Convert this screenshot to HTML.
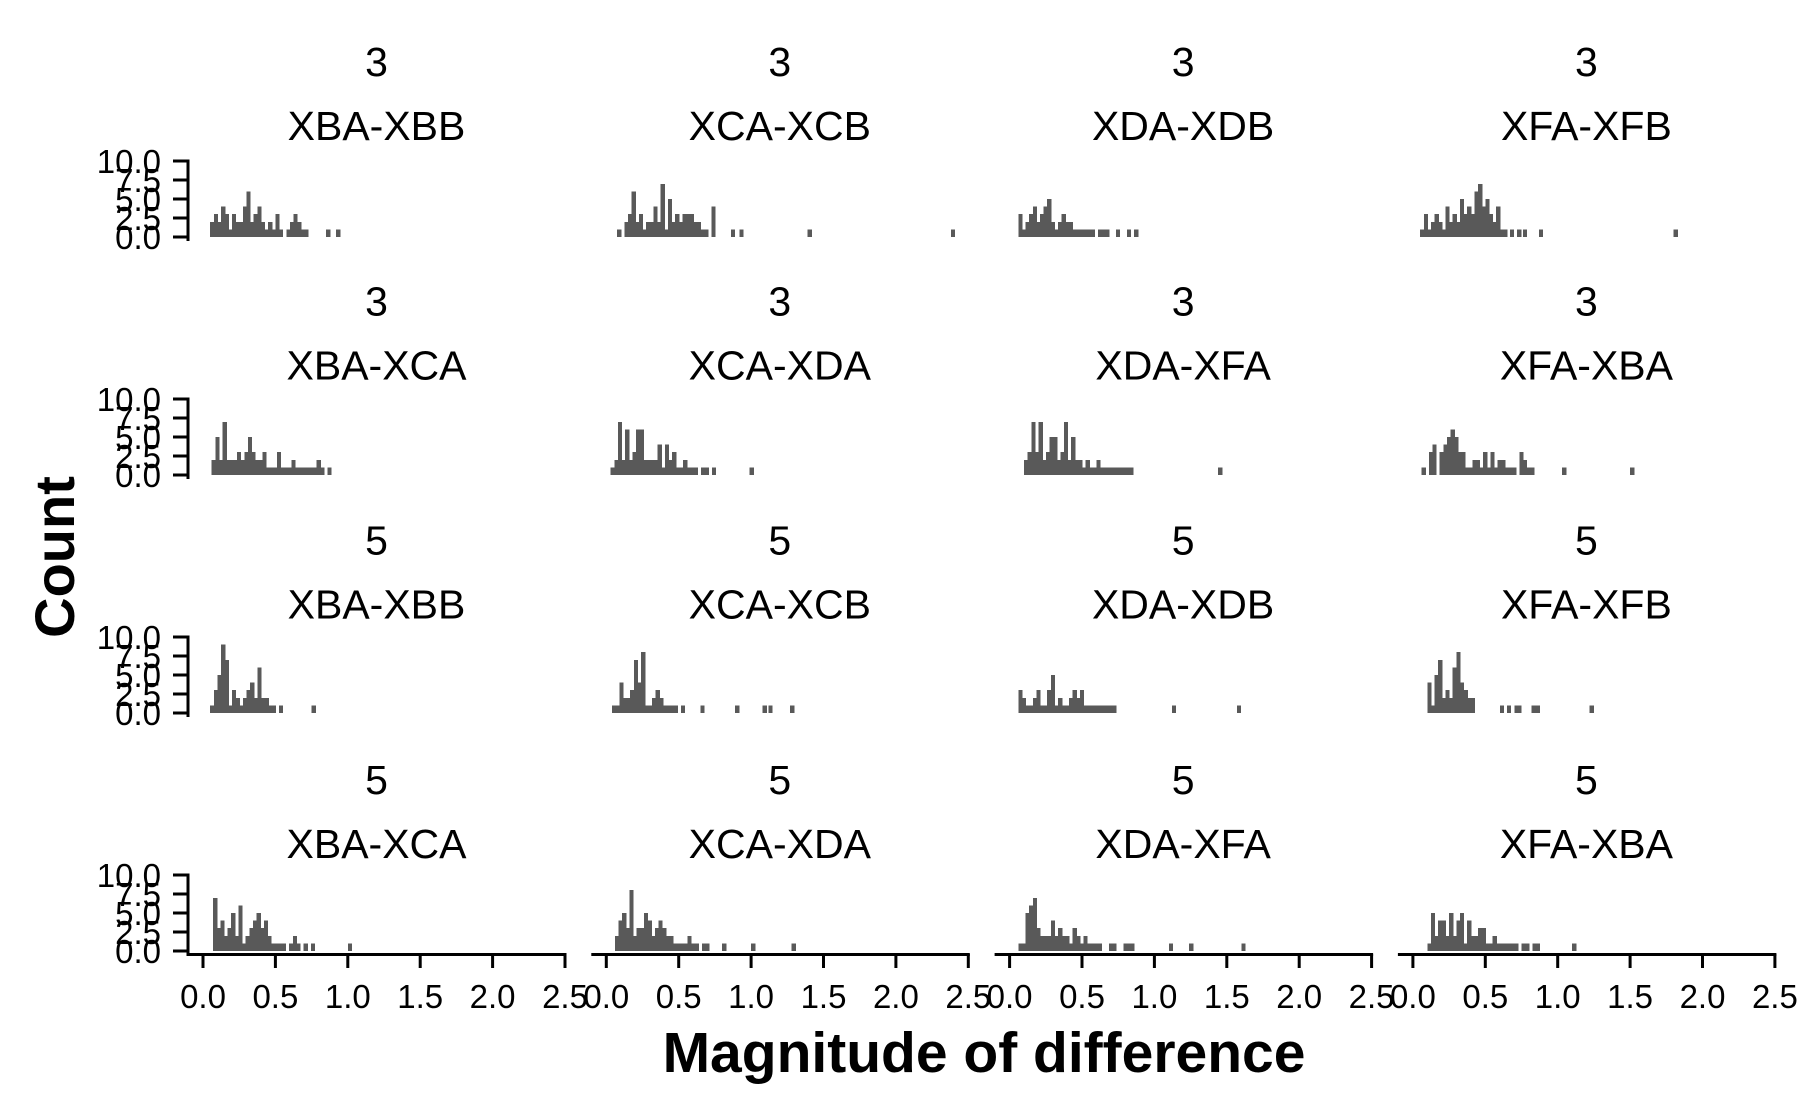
<!DOCTYPE html>
<html><head><meta charset="utf-8">
<style>
html,body{margin:0;padding:0;background:#fff;}
svg{display:block;font-family:"Liberation Sans",Arial,sans-serif;}
</style></head>
<body>
<svg id="chart" width="1800" height="1113" viewBox="0 0 1800 1113" xmlns="http://www.w3.org/2000/svg">
<rect width="1800" height="1113" fill="#fff"/>
<g id="panels"></g>
<text x="0" y="0" transform="translate(74,557) rotate(-90)" text-anchor="middle" font-size="56" font-weight="bold">Count</text>
<text x="984" y="1072" text-anchor="middle" font-size="57" font-weight="bold">Magnitude of difference</text>
</svg>
<script>
const rowGroups = ["3","3","5","5"];
const pairNames = [["XBA-XBB","XCA-XCB","XDA-XDB","XFA-XFB"],["XBA-XCA","XCA-XDA","XDA-XFA","XFA-XBA"],["XBA-XBB","XCA-XCB","XDA-XDB","XFA-XFB"],["XBA-XCA","XCA-XDA","XDA-XFA","XFA-XBA"]];
const binWidth = 0.025;
const starts = [[0.05,0.075,0.06,0.05],[0.06,0.03,0.1,0.06],[0.05,0.04,0.06,0.1],[0.07,0.06,0.06,0.1]];
const counts = [
 [[2,3,2,4,3,1,3,2,2,4,6,2,3,4,2,1,2,1,3,1,0,1,2,3,2,1,1],
  [1,0,2,3,6,2,3,1,2,2,4,2,7,1,5,2,3,2,3,3,3,2,2,1,1,0,4],
  [3,1,2,3,4,2,3,4,5,2,1,2,3,2,2,1,1,1,1,1,1,0,1,1,1,0,0,1,0,0,1,0,1],
  [1,3,1,2,3,2,1,4,2,3,2,5,3,4,3,6,7,4,5,3,2,4,1,1]],
 [[2,5,2,7,2,2,2,3,2,3,5,3,2,2,3,1,1,1,3,1,1,1,2,1,1,1,1,1,1,2,1,0,1],
  [1,2,7,2,6,2,3,6,6,2,2,2,2,4,1,4,2,3,1,1,2,1,1,1,0,1,1,0,1],
  [2,3,7,3,7,2,3,5,5,2,3,7,2,5,2,2,1,2,1,1,2,1,1,1,1,1,1,1,1,1],
  [1,0,3,4,0,3,4,5,6,5,3,3,1,1,2,2,1,3,1,3,1,2,2,1,1,1,0,3,2,1,1]],
 [[1,3,5,9,7,1,3,2,1,2,3,4,2,6,2,2,1,1,0,1],
  [1,1,4,2,2,3,7,4,8,1,1,2,3,2,1,1,1,1,0,1],
  [3,2,1,1,2,3,1,1,3,5,1,2,1,1,2,3,2,3,1,1,1,1,1,1,1,1,1],
  [4,1,5,7,2,3,2,6,8,4,3,2,2]],
 [[7,3,4,2,3,5,2,6,1,2,3,4,5,3,4,2,1,1,1,1,0,1,2,1,0,1,0,1],
  [2,4,5,3,8,2,3,3,5,4,2,3,4,3,2,2,1,1,1,1,2,1,1,0,1,1],
  [1,1,5,6,7,3,2,2,2,4,2,3,2,2,1,3,2,1,2,1,1,1,1,0,0,1,1,0,0,1,1,1],
  [1,5,2,4,4,2,5,2,4,5,1,4,2,2,3,3,1,1,2,1,1,1,1,1,1,0,1,1,0,1,1]]
];
const extras = [
 [[0.85,0.92],[0.86,0.92,1.39,2.38],[],[0.67,0.72,0.76,0.87,1.8]],
 [[],[0.99],[1.44],[1.03,1.5]],
 [[0.75],[0.65,0.89,1.08,1.12,1.27],[1.12,1.57],[0.6,0.65,0.7,0.72,0.82,0.85,1.22]],
 [[1.0],[0.8,1.0,1.28],[1.1,1.24,1.6],[1.1]]
];
const yTicks = [0,2.5,5,7.5,10];
const yTickLabels = ["0.0","2.5","5.0","7.5","10.0"];
const xTicks = [0,0.5,1,1.5,2,2.5];
const xTickLabels = ["0.0","0.5","1.0","1.5","2.0","2.5"];

const NS="http://www.w3.org/2000/svg";
const root=document.getElementById('panels');
function xs(v,col){return 203+col*403.3+v*144.8;}
function ys(c,row){return 237+row*238-c*7.6;}
function mk(tag,attrs,parent){const e=document.createElementNS(NS,tag);for(const k in attrs)e.setAttribute(k,attrs[k]);parent.appendChild(e);return e;}
function bar(g,v,cnt,r,c){
 const x0=xs(v,c), x1=xs(v+binWidth,c);
 const b=mk('rect',{x:x0,y:ys(cnt,r),width:x1-x0+0.6,height:ys(0,r)-ys(cnt,r),fill:'#595959','shape-rendering':'crispEdges'},g);
 
 
}

for(let r=0;r<4;r++){
 for(let c=0;c<4;c++){
  const g=mk('g',{},root);
  
  
  const cx=xs(0,c)+173.5, z=ys(0,r);
  const t1=mk('text',{x:cx,y:76+r*239.3,'text-anchor':'middle','font-size':41},g);
  t1.textContent=rowGroups[r];
  
  
  const t2=mk('text',{x:cx,y:140+r*239.3,'text-anchor':'middle','font-size':41},g);
  t2.textContent=pairNames[r][c];
  
  
  const arr=counts[r][c];
  for(let i=0;i<arr.length;i++){
   if(!arr[i])continue;
   bar(g,starts[r][c]+i*binWidth,arr[i],r,c);
  }
  for(const v of extras[r][c]) bar(g,v,1,r,c);
  if(c===0){
   const ya=mk('line',{x1:188,x2:188,y1:ys(10,r)-1.5,y2:(r===3?956:z+4),stroke:'#000','stroke-width':3},g);
   
   
   yTicks.forEach((tv,i)=>{
    const yy=ys(tv,r);
    mk('line',{x1:173,x2:188,y1:yy,y2:yy,stroke:'#000','stroke-width':3},g);
    const tl=mk('text',{x:161,y:yy+12,'text-anchor':'end','font-size':33},g);
    tl.textContent=yTickLabels[i];
    
    
   });
  }
  if(r===3){
   const xa=mk('line',{x1:xs(0,c)-15,x2:xs(2.5,c)+1.5,y1:954.5,y2:954.5,stroke:'#000','stroke-width':3},g);
   
   
   xTicks.forEach((tv,i)=>{
    const xx=xs(tv,c);
    mk('line',{x1:xx,x2:xx,y1:954,y2:968,stroke:'#000','stroke-width':3},g);
    const tl=mk('text',{x:xx,y:1008,'text-anchor':'middle','font-size':33},g);
    tl.textContent=xTickLabels[i];
    
    
   });
  }
 }
}
</script>
</body></html>
